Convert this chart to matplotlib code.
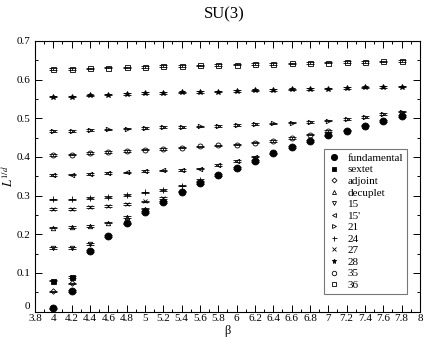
import matplotlib
matplotlib.use("Agg")
import matplotlib.pyplot as plt
from matplotlib.ticker import MultipleLocator, FuncFormatter
from matplotlib.lines import Line2D

plt.rcParams['font.family'] = ['Liberation Serif', 'DejaVu Serif']
plt.rcParams['mathtext.fontset'] = 'stix'

beta_all = [4.0, 4.2, 4.4, 4.6, 4.8, 5.0, 5.2, 5.4, 5.6, 5.8,
            6.0, 6.2, 6.4, 6.6, 6.8, 7.0, 7.2, 7.4, 7.6, 7.8]

fundamental = [0.008, 0.053, 0.157, 0.196, 0.228, 0.258, 0.284, 0.310, 0.332, 0.353,
               0.371, 0.390, 0.409, 0.426, 0.441, 0.456, 0.468, 0.481, 0.493, 0.506]
sextet = [0.080, 0.089]
adjoint = [0.052, 0.073]
decuplet = [0.217, 0.218, 0.221, 0.230, 0.244, 0.266]
rep15 = [0.164, 0.164, 0.175]
rep15p = [0.353, 0.354, 0.356, 0.358, 0.360, 0.363, 0.365, 0.366, 0.370, 0.379, 0.389, 0.401]
rep21 = [0.467, 0.467, 0.469, 0.471, 0.473, 0.475, 0.477, 0.478, 0.479, 0.480,
         0.482, 0.485, 0.487, 0.489, 0.491, 0.494, 0.498, 0.504, 0.511, 0.517]
rep24 = [0.290, 0.290, 0.294, 0.297, 0.302, 0.308, 0.314, 0.326, 0.340]
rep27 = [0.265, 0.265, 0.270, 0.273, 0.278, 0.285, 0.294]
rep28 = [0.556, 0.556, 0.559, 0.561, 0.563, 0.565, 0.566, 0.567, 0.568, 0.569,
         0.571, 0.572, 0.573, 0.575, 0.576, 0.577, 0.578, 0.580, 0.581, 0.582]
rep35 = [0.405, 0.406, 0.410, 0.413, 0.416, 0.419, 0.421, 0.424, 0.427, 0.430,
         0.432, 0.437, 0.441, 0.449, 0.458, 0.467]
rep36 = [0.627, 0.627, 0.629, 0.631, 0.632, 0.633, 0.635, 0.636, 0.637, 0.638,
         0.639, 0.640, 0.641, 0.642, 0.643, 0.644, 0.645, 0.646, 0.647, 0.648]

labels = ['fundamental', 'sextet', 'adjoint', 'decuplet', '15', "15'", '21', '24', '27', '28', '35', '36']
series = [fundamental, sextet, adjoint, decuplet, rep15, rep15p, rep21, rep24, rep27, rep28, rep35, rep36]
markers = ['o', 's', 'D', '^', 'v', '<', '>', '+', 'x', '*', 'o', 's']
filled = [True, True, False, False, False, False, False, False, False, True, False, False]
msizes = [5.0, 3.6, 2.8, 3.2, 3.2, 3.2, 3.2, 4.0, 3.2, 4.0, 3.6, 3.6]

fig = plt.figure(figsize=(4.24, 3.38), dpi=100)
ax = fig.add_axes([0.0825, 0.0784, 0.908, 0.8003])

handles = []
for lab, ys, m, f, ms in zip(labels, series, markers, filled, msizes):
    xs = beta_all[:len(ys)]
    mfc = 'black' if f else 'none'
    ax.errorbar(xs, ys, yerr=0.002, fmt=m, color='black', ms=ms,
                mfc=mfc, mec='black', mew=0.6,
                elinewidth=0.6, capsize=3.0, capthick=0.6)
    handles.append(Line2D([], [], linestyle='none', marker=m, ms=ms * 0.9,
                          mfc=mfc, mec='black', mew=0.6, color='black'))

ax.set_xlim(3.8, 8.0)
ax.set_ylim(0, 0.7)
ax.xaxis.set_major_locator(MultipleLocator(0.2))
ax.xaxis.set_minor_locator(MultipleLocator(0.1))
ax.yaxis.set_major_locator(MultipleLocator(0.1))
ax.yaxis.set_minor_locator(MultipleLocator(0.05))
xfmt = FuncFormatter(lambda v, p: ('%.1f' % v).rstrip('0').rstrip('.'))
yfmt = FuncFormatter(lambda v, p: ('%.1f' % v).rstrip('0').rstrip('.') if abs(v) > 1e-9 else '')
ax.xaxis.set_major_formatter(xfmt)
ax.yaxis.set_major_formatter(yfmt)
ax.tick_params(which='both', direction='in', top=True, right=True, labelsize=8, width=0.7)
ax.tick_params(axis='x', pad=2)
ax.tick_params(axis='y', pad=3)
ax.tick_params(which='major', length=5)
ax.tick_params(which='minor', length=2.5)
for s in ax.spines.values():
    s.set_linewidth(0.8)

# y-axis "0" label placed just above the x tick labels (as in the reference)
ax.text(-0.012, 0.002, '0', transform=ax.transAxes, ha='right', va='bottom', fontsize=8)

ax.set_xlabel('β', fontsize=9, labelpad=1)
ax.set_ylabel('$L^{1/d}$', fontsize=9, labelpad=1)
fig.text(0.528, 0.958, 'SU(3)', ha='center', va='center', fontsize=12)

leg = ax.legend(handles, labels, loc='upper left', bbox_to_anchor=(0.750, 0.600),
                fontsize=8, frameon=True, fancybox=False, edgecolor='#555555',
                handlelength=1.2, handletextpad=0.6, labelspacing=0.16,
                borderpad=0.35, borderaxespad=0)
leg.get_frame().set_linewidth(0.8)

fig.savefig('out.png', dpi=100)
